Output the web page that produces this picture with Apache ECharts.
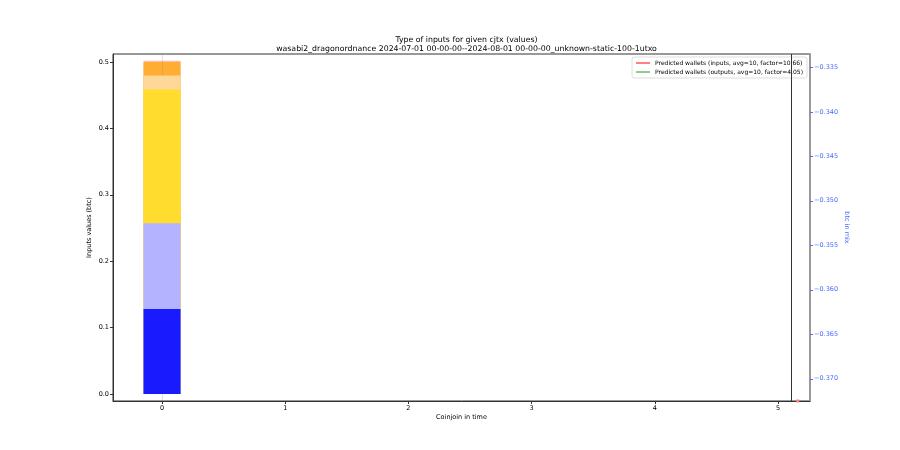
<!DOCTYPE html>
<html>
<head>
<meta charset="utf-8">
<script src="https://cdn.jsdelivr.net/npm/echarts@6/dist/echarts.min.js"></script>
<style>html,body{margin:0;padding:0;background:#fff}#c{width:900px;height:450px}</style>
</head>
<body>
<div id="c"></div>
<script>
const xPositions = [0];
const segBlue = [0.128];
const segLightBlue = [0.129];
const segYellow = [0.2015];
const segLightOrange = [0.021];
const segOrange = [0.021];
const segPink = [0.0015];
const segColors = ['#1a1aff', '#b3b3ff', '#ffdc2e', '#ffd898', '#ffad33', '#ffc0cb'];
const xTicks = [0, 1, 2, 3, 4, 5];
const leftTicks = [0, 0.1, 0.2, 0.3, 0.4, 0.5];
const rightTicks = [-0.370, -0.365, -0.360, -0.355, -0.350, -0.345, -0.340, -0.335];
const predInputsPoints = [[5.16, -0.3725]];
const vLinePos = 5.11;
const legendNames = ['Predicted wallets (inputs, avg=10, factor=10.66)', 'Predicted wallets (outputs, avg=10, factor=4.05)'];

const font = 'DejaVu Sans';
const chart = echarts.init(document.getElementById('c'));
const segs = [segBlue, segLightBlue, segYellow, segLightOrange, segOrange, segPink];
// cumulative tops, drawn from tallest (back) to shortest (front)
const cum = [];
segs.forEach((arr, i) => {
  cum.push(arr.map((v, k) => v + (i > 0 ? cum[i - 1][k] : 0)));
});
const barSeries = [];
for (let i = segs.length - 1; i >= 0; i--) {
  barSeries.push({
    type: 'bar', xAxisIndex: 0, yAxisIndex: 0,
    barWidth: 37, barGap: '-100%', z: 2 + (segs.length - i),
    data: xPositions.map((x, k) => [x, cum[i][k]]),
    itemStyle: { color: segColors[i] }, silent: true
  });
}
const lineMarks = [
  { type: 'line', xAxisIndex: 0, yAxisIndex: 0, data: [], silent: true, z: 20,
    markLine: { silent: true, symbol: 'none', label: { show: false },
      lineStyle: { color: 'rgba(150,150,150,0.3)', width: 1, type: 'solid' },
      data: [{ xAxis: 0 }] } },
  { type: 'line', xAxisIndex: 0, yAxisIndex: 0, data: [], silent: true, z: 20,
    markLine: { silent: true, symbol: 'none', label: { show: false },
      lineStyle: { color: '#333', width: 1, type: 'solid' },
      data: [{ xAxis: vLinePos }] } }
];

chart.setOption({
  animation: false,
  textStyle: { fontFamily: font },
  title: {
    text: 'Type of inputs for given cjtx (values)\nwasabi2_dragonordnance 2024-07-01 00-00-00--2024-08-01 00-00-00_unknown-static-100-1utxo',
    left: 461.5, textAlign: 'center', top: 30,
    textStyle: { fontFamily: font, fontSize: 7.8, fontWeight: 'normal', color: '#000', lineHeight: 9 }
  },
  legend: {
    data: legendNames, orient: 'vertical', right: 93, top: 57,
    itemWidth: 14, itemHeight: 2, itemGap: 3,
    backgroundColor: 'rgba(255,255,255,0.85)', borderColor: '#ddd', borderWidth: 1, borderRadius: 2,
    padding: [3, 4, 3, 4],
    textStyle: { fontFamily: font, fontSize: 6, color: '#000' },
    icon: 'rect'
  },
  grid: { left: 113, right: 90, top: 54, bottom: 49, show: true, borderColor: '#333', borderWidth: 1, backgroundColor: 'transparent' },
  xAxis: {
    type: 'value', min: -0.398, max: 5.26,
    name: 'Coinjoin in time', nameLocation: 'middle', nameGap: 13, nameMoveOverlap: false,
    nameTextStyle: { fontFamily: font, fontSize: 6.5, color: '#000' },
    splitLine: { show: false },
    axisLine: { onZero: false, lineStyle: { color: '#333' } },
    axisTick: { customValues: xTicks, length: 3, lineStyle: { color: '#333' } },
    axisLabel: { customValues: xTicks, fontFamily: font, fontSize: 6.5, color: '#000', margin: 4, formatter: v => String(v) }
  },
  yAxis: [{
    type: 'value', min: -0.0105, max: 0.512, position: 'left',
    name: 'Inputs values (btc)', nameLocation: 'middle', nameGap: 20, nameRotate: 90, nameMoveOverlap: false,
    nameTextStyle: { fontFamily: font, fontSize: 6.5, color: '#000' },
    splitLine: { show: false },
    axisLine: { show: true, onZero: false, lineStyle: { color: '#333' } },
    axisTick: { show: true, customValues: leftTicks, length: 3, lineStyle: { color: '#333' } },
    axisLabel: { customValues: leftTicks, fontFamily: font, fontSize: 6.5, color: '#000', margin: 4, formatter: v => v.toFixed(1) }
  }, {
    type: 'value', min: -0.3725, max: -0.3335, position: 'right',
    name: 'btc in mix', nameLocation: 'middle', nameGap: 33, nameRotate: -90, nameMoveOverlap: false,
    nameTextStyle: { fontFamily: font, fontSize: 6.5, color: '#4a6cff' },
    splitLine: { show: false },
    axisLine: { show: true, onZero: false, lineStyle: { color: '#999', width: 2 } },
    axisTick: { show: true, customValues: rightTicks, length: 3, lineStyle: { color: '#4a6cff' } },
    axisLabel: { customValues: rightTicks, fontFamily: font, fontSize: 6.5, color: '#4a6cff', margin: 4,
      formatter: v => (v < 0 ? '\u2212' : '') + Math.abs(v).toFixed(3) }
  }],
  series: barSeries.concat(lineMarks).concat([
    { name: legendNames[0], type: 'line', xAxisIndex: 0, yAxisIndex: 1, data: predInputsPoints,
      symbol: 'rect', symbolSize: 3, showSymbol: true, clip: true,
      lineStyle: { color: '#ff8080', width: 1 }, itemStyle: { color: '#ff8080' } },
    { name: legendNames[1], type: 'line', xAxisIndex: 0, yAxisIndex: 1, data: [],
      lineStyle: { color: '#90cc90', width: 1 }, itemStyle: { color: '#90cc90' } }
  ])
});
</script>
</body>
</html>
